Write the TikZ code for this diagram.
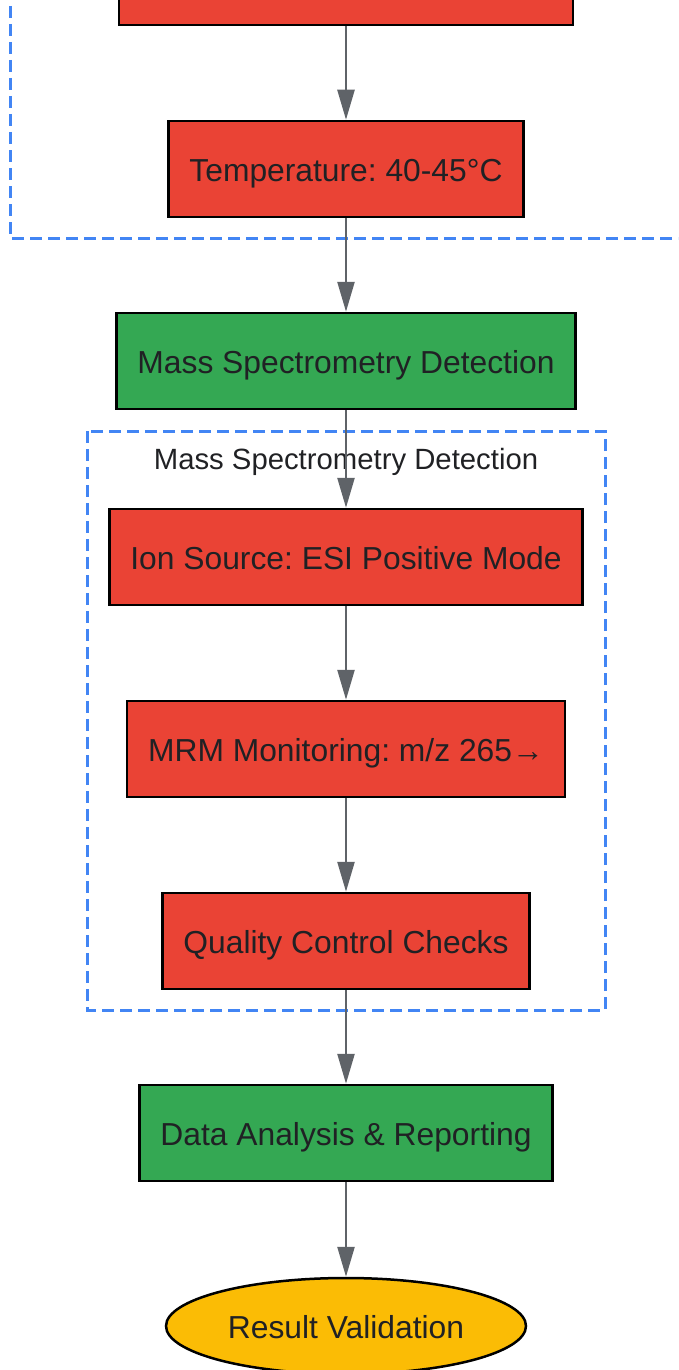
\documentclass[tikz,border=0pt]{standalone}
\usepackage{fontspec}
\setmainfont{Liberation Sans}
\usepackage{tikz}
\usetikzlibrary{arrows.meta,positioning,shapes.geometric}
\frenchspacing

\definecolor{stepred}{HTML}{EA4335}
\definecolor{stepgreen}{HTML}{34A853}
\definecolor{stepyellow}{HTML}{FBBC05}
\definecolor{groupblue}{HTML}{4285F4}
\definecolor{edgegray}{HTML}{5F6368}
\definecolor{textdark}{HTML}{202124}

\begin{document}
\begin{tikzpicture}[x=1pt,y=1pt,node distance=93.5pt]
  \tikzstyle{every node}=[text=textdark,font=\fontsize{31.8}{38}\selectfont,
    text height=27pt,text depth=3pt]
  \tikzstyle{stepbox}=[rectangle,draw=black,line width=2.5pt,minimum height=96pt,
    inner xsep=21pt,inner ysep=0pt]
  \tikzstyle{redbox}=[stepbox,fill=stepred]
  \tikzstyle{greenbox}=[stepbox,fill=stepgreen]
  \tikzstyle{endoval}=[ellipse,draw=black,line width=2.5pt,fill=stepyellow,
    minimum width=360pt,minimum height=96pt,inner sep=0pt]
  \tikzstyle{group}=[draw=groupblue,line width=3pt,dash pattern=on 12pt off 6pt]
  \tikzstyle{flow}=[draw=edgegray,line width=2.5pt,
    -{Triangle[length=30pt,width=17pt,fill=edgegray]}]

  \useasboundingbox (0,0) rectangle (678,-1370);
  \clip (0,0) rectangle (678,-1370);

  % groups
  \draw[group] (10,120) rectangle (700,-238);
  \draw[group] (87,-431) rectangle (605,-1010);
  \node[font=\fontsize{29.3}{35}\selectfont,text height=23pt,text depth=3pt]
    (msgroup) at (346,-459) {Mass Spectrometry Detection};

  \node[redbox,minimum width=454pt] (prev)  at (346,23) {};
  \node[redbox]   (temp) [below=of prev]   {Temperature: 40-45°C};
  \node[greenbox] (ms)   [below=of temp]   {Mass Spectrometry Detection};
  \node[redbox]   (ion)  [below=97.5pt of ms] {Ion Source: ESI Positive Mode};
  \node[redbox]   (mrm)  [below=of ion]    {MRM Monitoring: m/z 265→};
  \node[redbox]   (qc)   [below=of mrm]    {Quality Control Checks};
  \node[greenbox] (data) [below=of qc]     {Data Analysis \& Reporting};
  \node[endoval]  (valid) [below=94.5pt of data] {Result Validation};

  \draw[flow] (prev) -- (temp);
  \draw[flow] (temp) -- (ms);
  \draw[flow] (ms) -- (ion);
  \draw[flow] (ion) -- (mrm);
  \draw[flow] (mrm) -- (qc);
  \draw[flow] (qc) -- (data);
  \draw[flow] (data) -- (valid);
\end{tikzpicture}
\end{document}
